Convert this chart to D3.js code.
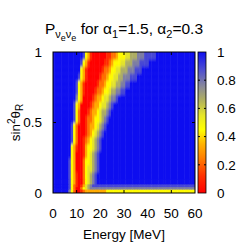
<!DOCTYPE html>
<html lang="en">
<head>
<meta charset="UTF-8">
<title>P(nu_e -> nu_e) map</title>
<script src="https://d3js.org/d3.v7.min.js"></script>
<style>
  body { margin: 0; background: #fff; }
  svg { display: block; font-family: "Liberation Sans", Arial, sans-serif; }
  .lbl { font-size: 13.5px; fill: #000; }
  .frame { fill: none; stroke: #000; stroke-width: 1; }
  .tickmark { stroke: #000; stroke-width: 1; }
</style>
</head>
<body>
<script>
  // energy columns [MeV], one per character of each row string
  var energyGrid = d3.range(0, 61);

  // sin^2(theta_R) row edges, bottom to top (one row string per bin)
  var sinEdges = [0, 0.028, 0.045, 0.065, 0.1, 0.15, 0.2, 0.25, 0.3, 0.35, 0.4,
                  0.45, 0.5, 0.55, 0.6, 0.65, 0.7, 0.75, 0.8, 0.85, 0.9, 0.95, 1];

  // survival probability, digit d means P = d/9
  var probRows = [
    "9999999742 0012333333 3334444444 4444444444 4444444444 4444444444 4",
    "9999999842 0024567777 7777777777 7777777777 7777777777 7777777777 7",
    "9999999842 1013567888 8888888888 8888888888 8888888888 8888888888 8",
    "9999999843 1002456789 9999999999 9999999999 9999999999 9999999999 9",
    "9999999843 1002456789 9999999999 9999999999 9999999999 9999999999 9",
    "9999999843 0002455678 9999999999 9999999999 9999999999 9999999999 9",
    "9999999843 0002445678 9999999999 9999999999 9999999999 9999999999 9",
    "9999999943 0001345678 9999999999 9999999999 9999999999 9999999999 9",
    "9999999943 1001344567 8999999999 9999999999 9999999999 9999999999 9",
    "9999999984 2001234567 8999999999 9999999999 9999999999 9999999999 9",
    "9999999984 2000123456 7899999999 9999999999 9999999999 9999999999 9",
    "9999999984 2000123345 6789999999 9999999999 9999999999 9999999999 9",
    "9999999998 4200122344 5678999999 9999999999 9999999999 9999999999 9",
    "9999999998 4200012334 5667899999 9999999999 9999999999 9999999999 9",
    "9999999998 4300001233 4556789999 9999999999 9999999999 9999999999 9",
    "9999999999 7430000123 3455677899 9999999999 9999999999 9999999999 9",
    "9999999999 8431000012 2344566778 8999999999 9999999999 9999999999 9",
    "9999999999 8431000001 2234455667 7889999999 9999999999 9999999999 9",
    "9999999999 9843100000 1223445566 7778889999 9999999999 9999999999 9",
    "9999999999 9943100000 0122344556 6677788899 9999999999 9999999999 9",
    "9999999999 9984310000 0011234445 5666777888 8999999999 9999999999 9",
    "9999999999 9998431000 0001122344 4556667778 8888999999 9999999999 9"
  ];

  var xTickVals = [0, 10, 20, 30, 40, 50, 60];
  var xTickMarks = [10, 30, 50];
  var yTickVals = [0, 0.5, 1];
  var yTickMarks = [0.5];
  var cbTickVals = [0, 0.2, 0.4, 0.6, 0.8, 1];

  var paletteStops  = [0, 0.12, 0.25, 0.35, 0.45, 0.55, 0.65, 0.75, 0.87, 1];
  var paletteColors = ["#ff0000", "#ff3000", "#ff8000", "#ffb400", "#ffff00",
                       "#e6e628", "#b4b45a", "#8c8c96", "#5050d0", "#1010f0"];

  var W = 249, H = 245;
  var svg = d3.select("body").append("svg").attr("width", W).attr("height", H);
  var defs = svg.append("defs");

  var x = d3.scaleLinear().domain([0, 60]).range([53, 195]);
  var y = d3.scaleLinear().domain([0, 1]).range([193, 52]);
  var color = d3.scaleLinear().domain(paletteStops).range(paletteColors);

  // heatmap cells (outer cells pushed a bit past the frame so the
  // smoothing filter has something to bleed into; the clip trims it)
  var cells = [];
  probRows.forEach(function(row, r) {
    var digits = row.replace(/ /g, "");
    energyGrid.forEach(function(e, i) {
      cells.push({
        e0: e === 0 ? -2 : e - 0.5, e1: e === 60 ? 62 : e + 0.5,
        s0: r === 0 ? -0.03 : sinEdges[r],
        s1: r === probRows.length - 1 ? 1.05 : sinEdges[r + 1],
        p: +digits[i] / 9
      });
    });
  });

  defs.append("filter").attr("id", "smooth")
    .attr("x", "-5%").attr("y", "-5%").attr("width", "110%").attr("height", "110%")
    .append("feGaussianBlur").attr("stdDeviation", "0.5 1.8");

  defs.append("clipPath").attr("id", "upper").append("rect")
    .attr("x", x(0)).attr("y", y(1)).attr("width", x(60) - x(0)).attr("height", y(0.1) - y(1));
  defs.append("clipPath").attr("id", "lower").append("rect")
    .attr("x", x(0)).attr("y", y(0.1)).attr("width", x(60) - x(0)).attr("height", y(0) - y(0.1));

  function drawCells(g) {
    g.selectAll("rect").data(cells).join("rect")
      .attr("x", d => x(d.e0))
      .attr("y", d => y(d.s1))
      .attr("width", d => x(d.e1) - x(d.e0) + 0.5)
      .attr("height", d => y(d.s0) - y(d.s1) + 0.5)
      .attr("fill", d => color(d.p));
  }
  // thin bottom rows stay sharp, the rest is smoothed
  drawCells(svg.append("g").attr("clip-path", "url(#lower)"));
  drawCells(svg.append("g").attr("clip-path", "url(#upper)").append("g").attr("filter", "url(#smooth)"));

  // frame and inward ticks
  svg.append("rect").attr("class", "frame")
    .attr("x", x(0)).attr("y", y(1))
    .attr("width", x(60) - x(0)).attr("height", y(0) - y(1));

  xTickMarks.forEach(function(t) {
    svg.append("line").attr("class", "tickmark")
      .attr("x1", x(t)).attr("x2", x(t)).attr("y1", y(0)).attr("y2", y(0) - 3);
    svg.append("line").attr("class", "tickmark")
      .attr("x1", x(t)).attr("x2", x(t)).attr("y1", y(1)).attr("y2", y(1) + 3);
  });
  yTickMarks.forEach(function(t) {
    svg.append("line").attr("class", "tickmark")
      .attr("x1", x(0)).attr("x2", x(0) + 3).attr("y1", y(t)).attr("y2", y(t));
    svg.append("line").attr("class", "tickmark")
      .attr("x1", x(60)).attr("x2", x(60) - 3).attr("y1", y(t)).attr("y2", y(t));
  });

  svg.append("g").selectAll("text").data(xTickVals).join("text")
    .attr("class", "lbl").attr("text-anchor", "middle")
    .attr("x", d => x(d)).attr("y", 218)
    .text(d => d);

  svg.append("g").selectAll("text").data(yTickVals).join("text")
    .attr("class", "lbl").attr("text-anchor", "end")
    .attr("x", 42).attr("y", d => y(d)).attr("dy", "0.35em")
    .text(d => d);

  // axis titles
  svg.append("text").attr("class", "lbl").attr("text-anchor", "middle")
    .attr("x", (x(0) + x(60)) / 2).attr("y", 239)
    .text("Energy [MeV]");

  var yl = svg.append("text").attr("class", "lbl").attr("text-anchor", "middle")
    .attr("transform", "translate(20," + ((y(0) + y(1)) / 2) + ") rotate(-90)");
  yl.append("tspan").text("sin");
  yl.append("tspan").attr("dy", -5).attr("font-size", "10px").text("2");
  yl.append("tspan").attr("dy", 5).text("\u03B8");
  yl.append("tspan").attr("dy", 3).attr("font-size", "10px").text("R");

  // title
  var tt = svg.append("text").attr("text-anchor", "middle")
    .attr("x", 124).attr("y", 34).attr("font-size", "15.5px");
  tt.append("tspan").text("P");
  tt.append("tspan").attr("dy", 4).attr("font-size", "11px").text("\u03BD");
  tt.append("tspan").attr("dy", 3).attr("font-size", "9px").text("e");
  tt.append("tspan").attr("dy", -3).attr("font-size", "11px").text("\u03BD");
  tt.append("tspan").attr("dy", 3).attr("font-size", "9px").text("e");
  tt.append("tspan").attr("dy", -7).text(" for \u03B1");
  tt.append("tspan").attr("dy", 4).attr("font-size", "11px").text("1");
  tt.append("tspan").attr("dy", -4).text("=1.5, \u03B1");
  tt.append("tspan").attr("dy", 4).attr("font-size", "11px").text("2");
  tt.append("tspan").attr("dy", -4).text("=0.3");

  // colour box
  var cb = d3.scaleLinear().domain([0, 1]).range([193, 52]);
  var grad = defs.append("linearGradient").attr("id", "pal")
    .attr("x1", 0).attr("y1", 1).attr("x2", 0).attr("y2", 0);
  paletteStops.forEach(function(s, i) {
    grad.append("stop").attr("offset", s).attr("stop-color", paletteColors[i]);
  });
  svg.append("rect").attr("x", 198).attr("y", cb(1))
    .attr("width", 8).attr("height", cb(0) - cb(1))
    .attr("fill", "url(#pal)").attr("stroke", "#000").attr("stroke-width", 0.8);
  cbTickVals.slice(1, -1).forEach(function(t) {
    svg.append("line").attr("class", "tickmark").attr("stroke-width", 0.8)
      .attr("x1", 198).attr("x2", 200).attr("y1", cb(t)).attr("y2", cb(t));
    svg.append("line").attr("class", "tickmark").attr("stroke-width", 0.8)
      .attr("x1", 206).attr("x2", 204).attr("y1", cb(t)).attr("y2", cb(t));
  });
  svg.append("g").selectAll("text").data(cbTickVals).join("text")
    .attr("class", "lbl").attr("x", 217).attr("y", d => cb(d)).attr("dy", "0.35em")
    .text(d => d);
</script>
</body>
</html>
